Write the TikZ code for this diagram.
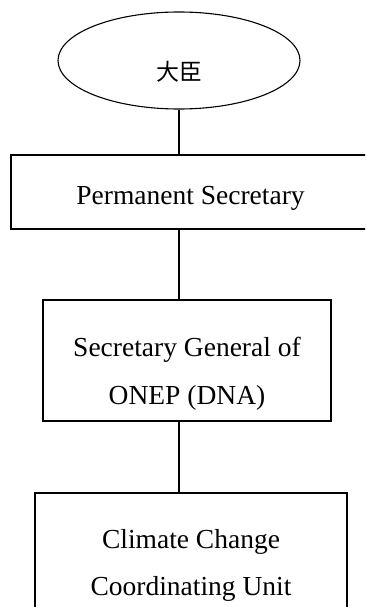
\documentclass[tikz,border=0pt]{standalone}
\usepackage{fontspec}
\setmainfont{Liberation Serif}
\newfontfamily\cjk{Noto Sans CJK SC}
\usetikzlibrary{shapes.geometric}
\begin{document}
\begin{tikzpicture}[x=1pt,y=-1pt,
  boxline/.style={draw=black,line width=1.1pt},
  orgbox/.style={boxline,rectangle,inner sep=0pt},
  orgtext/.style={anchor=base,inner sep=0pt,font=\fontsize{27.5}{30}\selectfont},
  conn/.style={draw=black,line width=1.1pt}]
\useasboundingbox (0,0) rectangle (365,607);
\clip (0,0) rectangle (365,607);
\node[boxline,ellipse,minimum width=242pt,minimum height=97pt,inner sep=0pt] (min) at (179,60.5) {};
\node[inner sep=0pt,font=\cjk\fontsize{23}{25}\selectfont] (mint) at (179.5,72) {大臣};
\node[orgbox,minimum width=359pt,minimum height=74pt] (b1) at (190.5,192) {};
\node[orgtext] (t1) at (190.5,204) {Permanent Secretary};
\node[orgbox,minimum width=288pt,minimum height=121pt] (b2) at (187,360.5) {};
\node[orgtext] (t2a) at (187,356) {Secretary General of};
\node[orgtext] (t2b) at (187,404) {ONEP (DNA)};
\node[orgbox,minimum width=312pt,minimum height=140pt] (b3) at (191,563) {};
\node[orgtext] (t3a) at (191,548) {Climate Change};
\node[orgtext] (t3b) at (191,595) {Coordinating Unit};
\draw[conn] (min.south) -- (min.south |- b1.north);
\draw[conn] (min.south |- b1.south) -- (min.south |- b2.north);
\draw[conn] (min.south |- b2.south) -- (min.south |- b3.north);
\end{tikzpicture}
\end{document}
